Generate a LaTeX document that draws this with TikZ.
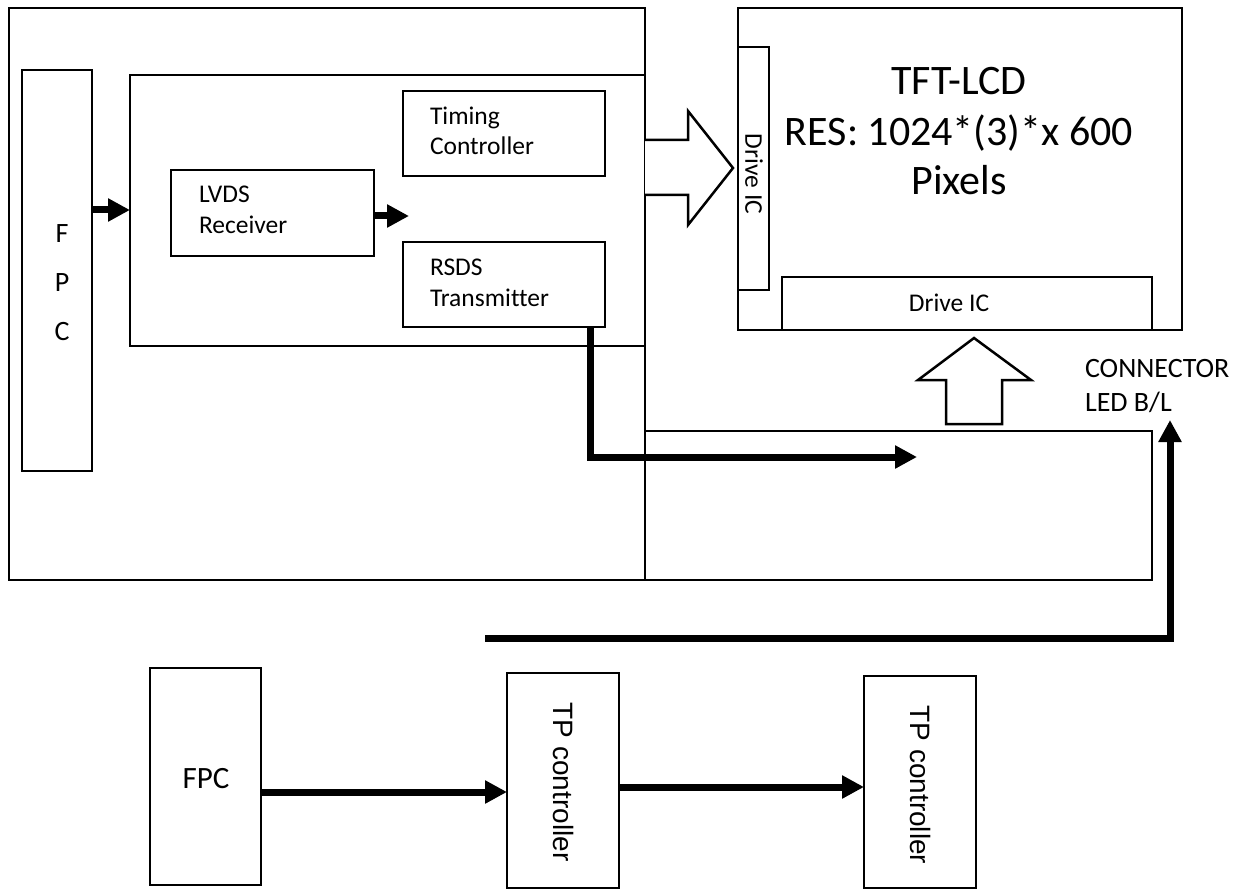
\documentclass[tikz,border=0pt]{standalone}
\usepackage{fontspec}
\setmainfont{Carlito}[Ligatures=CommonOff]
\newfontfamily\arialf{Liberation Sans}
\usetikzlibrary{arrows.meta}
\begin{document}
\begin{tikzpicture}[x=1pt,y=-1pt,
  box/.style={draw, line width=2.5pt, inner sep=0pt, outer sep=0pt, anchor=north west},
  lbl/.style={inner sep=0pt, outer sep=0pt, font=\fontsize{25.5}{30}\selectfont},
  bigarrow/.style={line width=7pt, line cap=butt, line join=miter, -{Triangle[length=22pt,width=22pt]}},
  hollow/.style={draw, line width=2.5pt, fill=white, line join=miter}]
\useasboundingbox (0,0) rectangle (1241,890);
% boxes
\node[box, minimum width=636pt, minimum height=572pt] (outer) at (9,8) {};
\node[box, minimum width=507pt, minimum height=149pt] (low) at (645,431) {};
\node[box, minimum width=515pt, minimum height=271pt] (inner) at (130,75) {};
\node[box, minimum width=70pt, minimum height=401pt] (fpc) at (22,70) {};
\node[box, minimum width=202pt, minimum height=85pt] (timing) at (403,91) {};
\node[box, minimum width=203pt, minimum height=86pt] (lvds) at (171,170) {};
\node[box, minimum width=202pt, minimum height=85pt] (rsds) at (403,242) {};
\node[box, minimum width=444pt, minimum height=322pt] (tft) at (738,8) {};
\node[box, minimum width=31pt, minimum height=243pt] (drvl) at (738,47) {};
\node[box, minimum width=370pt, minimum height=53pt] (drvb) at (782,277) {};
\node[box, minimum width=111pt, minimum height=217pt] (fpcb) at (150,668) {};
\node[box, minimum width=112pt, minimum height=215pt] (tpa) at (507,673) {};
\node[box, minimum width=112pt, minimum height=212pt] (tpb) at (864,676) {};
% texts
\node[lbl, anchor=base west] (tim1) at (430,125) {Timing};
\node[lbl, anchor=base west] (tim2) at (430,155) {Controller};
\node[lbl, anchor=base west] (lv1) at (199,203) {LVDS};
\node[lbl, anchor=base west] (lv2) at (199,234) {Receiver};
\node[lbl, anchor=base west] (rs1) at (430,276) {RSDS};
\node[lbl, anchor=base west] (rs2) at (430,306) {Transmitter};
\node[lbl, anchor=base, font=\fontsize{28}{32}\selectfont] (f1) at (62,243) {F};
\node[lbl, anchor=base, font=\fontsize{28}{32}\selectfont] (f2) at (62,291) {P};
\node[lbl, anchor=base, font=\fontsize{28}{32}\selectfont] (f3) at (62,340) {C};
\node[lbl, anchor=base, font=\fontsize{42}{48}\selectfont] (tft1) at (959,95) {TFT-LCD};
\node[lbl, anchor=base, font=\fontsize{42}{48}\selectfont] (tft2) at (959,146) {RES: 1024*(3)*x 600};
\node[lbl, anchor=base, font=\fontsize{42}{48}\selectfont] (tft3) at (959,195) {Pixels};
\node[lbl, rotate=-90] (dl) at (754,174) {Drive IC};
\node[lbl, anchor=base] (db) at (949,312) {Drive IC};
\node[lbl, anchor=base west, font=\fontsize{28}{32}\selectfont] (con1) at (1085,377) {CONNECTOR};
\node[lbl, anchor=base west, font=\fontsize{28}{32}\selectfont] (con2) at (1085,411) {LED B/L};
\node[lbl, anchor=base, font=\fontsize{31}{36}\selectfont] (fpcbt) at (206,788) {FPC};
\node[lbl, rotate=-90, font=\arialf\fontsize{28}{32}\selectfont] (tpat) at (563,782) {TP controller};
\node[lbl, rotate=-90, font=\arialf\fontsize{28}{32}\selectfont] (tpbt) at (920,785) {TP controller};
% hollow arrows
\draw[hollow] (645,140) -- (688,140) -- (688,111) -- (733,168) -- (688,225) -- (688,195) -- (645,195);
\draw[hollow] (946,424) -- (946,380) -- (918,380) -- (974,338) -- (1031,380) -- (1002,380) -- (1002,424) -- cycle;
% thick arrows
\coordinate (ya) at (0,210);
\coordinate (yb) at (0,216);
\coordinate (lvend) at (409,216);
\coordinate (rsend) at (917,457);
\coordinate (bstart) at (485,638);
\coordinate (bcorner) at (1170,638);
\coordinate (bend) at (1170,420);
\coordinate (yc) at (0,792);
\coordinate (yd) at (0,787);
\draw[bigarrow] (fpc.east |- ya) -- (inner.west |- ya);
\draw[bigarrow] (lvds.east |- yb) -- (lvend);
\draw[bigarrow] ([xshift=-15pt]rsds.south east) |- (rsend);
\draw[bigarrow] (bstart) -- (bcorner) -- (bend);
\draw[bigarrow] (fpcb.east |- yc) -- (tpa.west |- yc);
\draw[bigarrow] (tpa.east |- yd) -- (tpb.west |- yd);
\end{tikzpicture}
\end{document}
